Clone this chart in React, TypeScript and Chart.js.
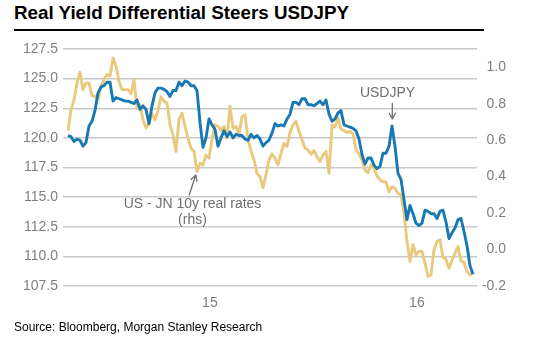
import React, { useEffect, useRef } from 'react';
import { Chart, registerables } from 'chart.js';

Chart.register(...registerables);

// ---- Data ----
const usdjpy: number[] = [
  120.2, 120.1, 119.7, 119.9, 119.8, 119.3, 119.6, 121.0, 121.4, 122.3,
  123.8, 124.3, 124.4, 124.7, 124.7, 123.1, 123.4, 123.3, 123.2, 123.1,
  123.1, 123.0, 122.9, 123.2, 122.4, 122.7, 122.4, 121.2, 122.7, 123.8,
  124.2, 124.2, 124.1, 123.9, 123.5, 124.0, 124.0, 124.7, 124.4, 124.8,
  124.7, 124.4, 124.4, 124.0, 121.3, 119.2, 120.0, 121.6, 121.1, 120.7,
  119.3, 120.0, 120.6, 120.1, 120.5, 120.0, 120.3, 120.2, 120.2, 119.9, 119.8,
  120.3, 120.0, 120.2, 119.9, 119.3, 119.6, 119.8, 120.4, 121.2, 121.0,
  121.1, 121.0, 121.6, 122.0, 123.0, 123.0, 122.8, 123.3, 123.3, 122.8,
  122.8, 122.7, 122.9, 123.1, 122.8, 123.2, 122.0, 121.4, 121.6, 122.1,
  122.3, 121.1, 121.0, 120.9, 120.8, 120.6, 119.9, 118.6, 117.8, 118.3,
  118.3, 117.7, 117.4, 117.6, 118.7, 118.7, 119.3, 121.0, 119.3, 117.0,
  116.5, 114.8,
  113.1, 114.3, 113.6, 112.8, 112.6, 112.8, 113.9, 113.8, 113.6, 113.6,
  113.2, 113.8, 113.9, 112.9, 111.5, 112.0, 112.4, 113.1, 113.2, 112.1,
  110.9, 109.2, 108.5,
];

const realRateDiff: number[] = [
  0.653, 0.767, 0.822, 0.914, 0.972, 0.877, 0.914, 0.914, 0.844, 0.840,
  0.822, 0.892, 0.932, 0.960, 0.950, 1.051, 1.005, 0.923, 0.877, 0.877,
  0.877, 0.855, 0.932, 0.776, 0.794, 0.712, 0.666, 0.694, 0.745, 0.712,
  0.763, 0.837, 0.813, 0.804, 0.684, 0.629, 0.538, 0.712, 0.749, 0.675,
  0.611, 0.556, 0.538, 0.428, 0.473, 0.464, 0.519, 0.501, 0.602, 0.684,
  0.675, 0.653, 0.675, 0.611, 0.785, 0.666, 0.675, 0.633, 0.730, 0.739, 0.602,
  0.541, 0.492, 0.418, 0.400, 0.340, 0.410, 0.492, 0.525, 0.501, 0.464,
  0.528, 0.583, 0.565, 0.642, 0.684, 0.703, 0.648, 0.602, 0.556, 0.547,
  0.523, 0.543, 0.510, 0.483, 0.519, 0.538, 0.418, 0.684, 0.672, 0.721,
  0.661, 0.653, 0.642, 0.648, 0.635, 0.547, 0.525, 0.492, 0.437, 0.422,
  0.464, 0.446, 0.404, 0.382, 0.372, 0.372, 0.317, 0.345, 0.336, 0.308,
  0.300, 0.200,
  0.044, -0.066, 0.026, -0.029, -0.011, -0.011, -0.075, -0.148, -0.139, -0.002,
  0.044, 0.053, -0.042, -0.053, -0.103, -0.057, -0.020, 0.016, -0.062, -0.071,
  -0.121, -0.139, -0.125,
];

// observation index (one per sample)
const obsIndex: number[] = usdjpy.map((_, i) => i);

// x-axis year labels and where they sit on the observation index
const xTickValues: number[] = [47.3, 116.3];
const xTickLabels: string[] = ['15', '16'];

const leftMin = 107.5;
const leftMax = 127.5;
const leftStep = 2.5;
const rightMin = -0.2;
const rightMax = 1.1;
const rightTicks: number[] = [-0.2, 0.0, 0.2, 0.4, 0.6, 0.8, 1.0];

const titleText = 'Real Yield Differential Steers USDJPY';
const sourceText = 'Source: Bloomberg, Morgan Stanley Research';

// annotation texts (positions on index / left-axis value)
const noteTexts: string[] = ['USDJPY', 'US - JN 10y real rates', '(rhs)'];
const noteX: number[] = [106.5, 41.5, 41.5];
const noteY: number[] = [123.8, 114.4, 113.07];
// arrows: [fromX, fromY, toX, toY] in index / left-axis value
const arrowFromX: number[] = [108.1, 40.4];
const arrowFromY: number[] = [122.9, 115.18];
const arrowToX: number[] = [108.1, 42.6];
const arrowToY: number[] = [121.6, 116.87];

const FONT = '"Liberation Sans", Arial, Helvetica, sans-serif';
const BLUE = '#1878b4';
const GOLD = '#eac87c';
const GRID = '#c9c9c9';
const TICK = '#7f7f7f';
const NOTE = '#6f6f6f';

const annotationPlugin = {
  id: 'notes',
  afterDatasetsDraw(chart: any) {
    const { ctx } = chart;
    const xs = chart.scales.x;
    const ys = chart.scales.y;
    ctx.save();
    ctx.fillStyle = NOTE;
    ctx.strokeStyle = NOTE;
    ctx.font = `14px ${FONT}`;
    ctx.textAlign = 'center';
    ctx.textBaseline = 'middle';
    noteTexts.forEach((t, i) => {
      ctx.fillText(t, xs.getPixelForValue(noteX[i]), ys.getPixelForValue(noteY[i]));
    });
    ctx.lineWidth = 1.3;
    ctx.lineCap = 'round';
    ctx.lineJoin = 'round';
    arrowFromX.forEach((_, i) => {
      const x1 = xs.getPixelForValue(arrowFromX[i]);
      const y1 = ys.getPixelForValue(arrowFromY[i]);
      const x2 = xs.getPixelForValue(arrowToX[i]);
      const y2 = ys.getPixelForValue(arrowToY[i]);
      const ang = Math.atan2(y2 - y1, x2 - x1);
      const head = 6.5;
      const spread = 0.5;
      ctx.beginPath();
      ctx.moveTo(x1, y1);
      ctx.lineTo(x2, y2);
      ctx.moveTo(x2 - head * Math.cos(ang - spread), y2 - head * Math.sin(ang - spread));
      ctx.lineTo(x2, y2);
      ctx.lineTo(x2 - head * Math.cos(ang + spread), y2 - head * Math.sin(ang + spread));
      ctx.stroke();
    });
    ctx.restore();
  },
};

export default function App() {
  const canvasRef = useRef<HTMLCanvasElement | null>(null);

  useEffect(() => {
    if (!canvasRef.current) return;
    const chart = new Chart(canvasRef.current, {
      type: 'line',
      data: {
        labels: obsIndex,
        datasets: [
          {
            label: 'USDJPY',
            data: usdjpy,
            yAxisID: 'y',
            borderColor: BLUE,
            borderWidth: 2.9,
            pointRadius: 0,
            tension: 0,
            borderJoinStyle: 'round',
            order: 0,
          },
          {
            label: 'US - JN 10y real rates (rhs)',
            data: realRateDiff,
            yAxisID: 'y1',
            borderColor: GOLD,
            borderWidth: 2.9,
            pointRadius: 0,
            tension: 0,
            borderJoinStyle: 'round',
            order: 1,
          },
        ],
      },
      options: {
        animation: false,
        responsive: false,
        maintainAspectRatio: false,
        layout: { padding: { top: 49, left: 0, right: 52, bottom: 0 } },
        plugins: {
          legend: { display: false },
          tooltip: { enabled: false },
          title: { display: false },
        },
        scales: {
          x: {
            type: 'linear',
            min: -5 / 3,
            max: 136 + 1 / 3,
            grid: { display: false, drawTicks: false },
            border: { display: false },
            afterBuildTicks: (scale: any) => {
              scale.ticks = xTickValues.map((v) => ({ value: v }));
            },
            afterFit: (scale: any) => {
              scale.height = 65;
            },
            ticks: {
              autoSkip: false,
              maxRotation: 0,
              padding: 9,
              color: TICK,
              font: { family: FONT, size: 14 },
              callback: (v: any) => {
                const k = xTickValues.indexOf(Number(v));
                return k >= 0 ? xTickLabels[k] : '';
              },
            },
          },
          y: {
            position: 'left',
            min: leftMin,
            max: leftMax,
            grid: { color: GRID, lineWidth: 1.4, drawTicks: false },
            border: { display: false },
            afterFit: (scale: any) => {
              scale.width = 63;
            },
            ticks: {
              stepSize: leftStep,
              padding: 5,
              color: TICK,
              font: { family: FONT, size: 14 },
              callback: (v: any) => Number(v).toFixed(1),
            },
          },
          y1: {
            position: 'right',
            min: rightMin,
            max: rightMax,
            grid: { display: false, drawTicks: false },
            border: { display: false },
            afterBuildTicks: (scale: any) => {
              scale.ticks = rightTicks.map((v) => ({ value: v }));
            },
            afterFit: (scale: any) => {
              scale.width = 29;
            },
            ticks: {
              padding: 5,
              crossAlign: 'far',
              color: TICK,
              font: { family: FONT, size: 14 },
              callback: (v: any) => Number(v).toFixed(1),
            },
          },
        },
      },
      plugins: [annotationPlugin],
    } as any);
    return () => chart.destroy();
  }, []);

  return (
    <div
      style={{
        position: 'absolute',
        left: 0,
        top: 0,
        width: 558,
        height: 351,
        background: '#fff',
        overflow: 'hidden',
      }}
    >
      <div
        style={{
          position: 'absolute',
          left: 14,
          top: 2,
          fontFamily: FONT,
          fontWeight: 'bold',
          fontSize: '18.8px',
          lineHeight: '22px',
          color: '#000',
          whiteSpace: 'nowrap',
        }}
      >
        {titleText}
      </div>
      <div
        style={{
          position: 'absolute',
          left: 14,
          top: 29,
          width: 470,
          height: 1.5,
          background: '#000',
        }}
      />
      <canvas
        ref={canvasRef}
        width={558}
        height={351}
        style={{ position: 'absolute', left: 0, top: 0, display: 'block' }}
      />
      <div
        style={{
          position: 'absolute',
          left: 14,
          top: 320,
          fontFamily: FONT,
          fontSize: '12px',
          lineHeight: '14px',
          color: '#000',
          whiteSpace: 'nowrap',
        }}
      >
        {sourceText}
      </div>
    </div>
  );
}
